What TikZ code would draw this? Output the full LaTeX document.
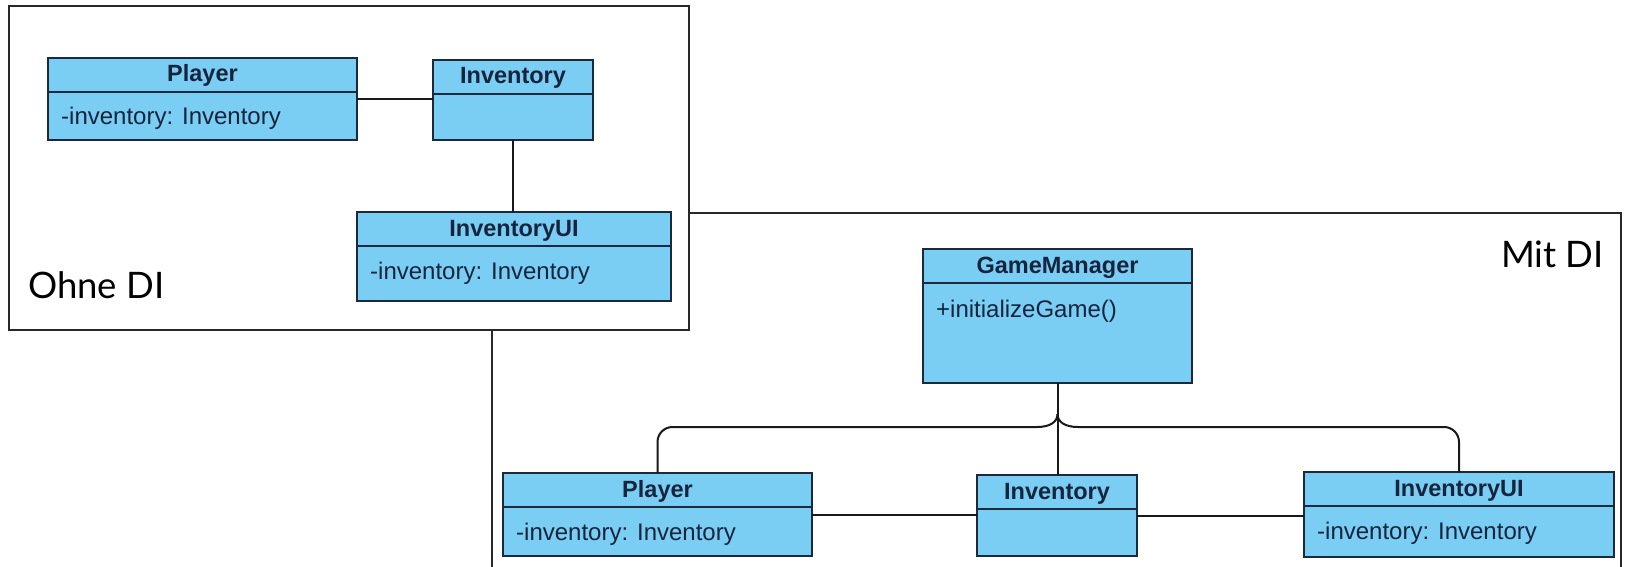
\documentclass[tikz,border=0pt]{standalone}
\usepackage{fontspec}
\setmainfont{Liberation Sans}
\newfontfamily\labelfont{Lato}
\definecolor{umlfill}{RGB}{122,205,243}
\definecolor{umlline}{RGB}{28,40,60}
\definecolor{umltext}{RGB}{22,36,62}
\definecolor{framegray}{RGB}{40,40,40}
\begin{document}
\begin{tikzpicture}[x=1pt,y=-1pt,
  cls/.style={rectangle, draw=umlline, line width=2pt, fill=umlfill, inner sep=0pt, outer sep=0pt},
  hdr/.style={anchor=base, inner sep=0pt, text=umltext, font=\fontsize{23.5}{28}\selectfont\bfseries},
  attr/.style={anchor=base west, inner sep=0pt, text=umltext, font=\fontsize{24}{28}\selectfont},
  sepline/.style={draw=umlline, line width=2pt},
  link/.style={draw=black!90, line width=2pt},
  frame/.style={draw=framegray, line width=1.5pt},
  caption/.style={inner sep=0pt, text=black, font=\labelfont\fontsize{36.5}{42}\selectfont}]

\fill[white] (0,0) rectangle (1625,567);
\useasboundingbox (0,0) rectangle (1625,567);

% frame of the "Mit DI" variant, open towards the bottom
\coordinate (mitbl) at (492,567);
\coordinate (mittl) at (492,213);
\coordinate (mittr) at (1621,213);
\coordinate (mitbr) at (1621,567);
\draw[frame] (mitbl) -- (mittl) -- (mittr) -- (mitbr);

% frame of the "Ohne DI" variant, lying on top
\node[frame, fill=white, minimum width=680pt, minimum height=324pt, inner sep=0pt, outer sep=0pt] (ohne) at (349,168) {};

\node[caption, anchor=base west] (ohnelbl) at (28,298) {Ohne DI};
\node[caption, anchor=base east] (mitlbl) at (1604,267) {Mit DI};

% ---------- without dependency injection ----------
\node[cls, minimum width=309pt, minimum height=82pt] (pl1) at (202.5,99) {};
\node[cls, minimum width=160pt, minimum height=80pt] (inv1) at (513,100) {};
\node[cls, minimum width=314pt, minimum height=89pt] (ui1) at (514,256.5) {};

\draw[link] (pl1.east) -- (pl1.east -| inv1.west);
\draw[link] (inv1.south) -- (inv1.south |- ui1.north);

% ---------- with dependency injection ----------
\node[cls, minimum width=269pt, minimum height=134pt] (gm) at (1057.5,316) {};
\node[cls, minimum width=309pt, minimum height=83pt] (pl2) at (657.5,514.5) {};
\node[cls, minimum width=160pt, minimum height=81pt] (inv2) at (1057,515.5) {};
\node[cls, minimum width=310pt, minimum height=85pt] (ui2) at (1459,514.5) {};

\coordinate (busl) at (1037,427);
\coordinate (busr) at (1078,427);
\coordinate (cusp) at (1057.5,414);

\draw[link] (gm.south) -- (gm.south |- inv2.north);
\draw[link] (pl2.east) -- (pl2.east -| inv2.west);
\draw[link] (inv2.east) -- (inv2.east -| ui2.west);
\draw[link, rounded corners=15pt] (pl2.north) |- (busl);
\draw[link] (busl) .. controls +(13,0) and +(0,8) .. (cusp);
\draw[link] (cusp) .. controls +(0,8) and +(-13,0) .. (busr);
\draw[link, rounded corners=15pt] (busr) -| (ui2.north);

% compartment separators
\foreach \c in {pl1,inv1,ui1,gm,pl2,inv2,ui2}{
  \draw[sepline] ([yshift=-34pt]\c.north west) -- ([yshift=-34pt]\c.north east);
}

% class names
\node[hdr] (pl1n) at ([yshift=-24pt]pl1.north) {Player};
\node[hdr] (inv1n) at ([yshift=-24pt]inv1.north) {Inventory};
\node[hdr] (ui1n) at ([yshift=-24pt]ui1.north) {InventoryUI};
\node[hdr] (gmn) at ([yshift=-24pt]gm.north) {GameManager};
\node[hdr] (pl2n) at ([yshift=-24pt]pl2.north) {Player};
\node[hdr] (inv2n) at ([yshift=-24pt]inv2.north) {Inventory};
\node[hdr] (ui2n) at ([yshift=-24pt]ui2.north) {InventoryUI};

% members
\node[attr] (pl1a) at ([xshift=13pt,yshift=-67pt]pl1.north west) {-inventory: Inventory};
\node[attr] (ui1a) at ([xshift=13pt,yshift=-67pt]ui1.north west) {-inventory: Inventory};
\node[attr] (gma) at ([xshift=13pt,yshift=-68pt]gm.north west) {+initializeGame()};
\node[attr] (pl2a) at ([xshift=13pt,yshift=-67pt]pl2.north west) {-inventory: Inventory};
\node[attr] (ui2a) at ([xshift=13pt,yshift=-67pt]ui2.north west) {-inventory: Inventory};
\end{tikzpicture}
\end{document}
